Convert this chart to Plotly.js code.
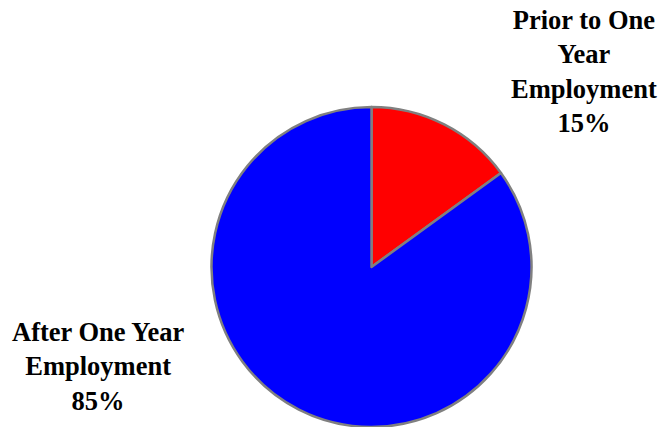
<!DOCTYPE html>
<html><head><meta charset="utf-8">
<script src="https://cdn.plot.ly/plotly-3.0.1.min.js"></script>
<style>html,body{margin:0;padding:0;background:#fff}</style>
</head><body>
<div id="chart" style="width:658px;height:427px"></div>
<script>
const labels = ["Prior to One<br>Year<br>Employment", "After One Year<br>Employment"];
const values = [15, 85];
const colors = ["#FF0000", "#0000FF"];
const labelPos = [[583.5/658, 1 - 72/427], [97.5/658, 1 - 366/427]];

const annotations = labels.map((l, i) => ({
  text: "<b>" + l.split("<br>").join("</b><br><b>") + "</b><br><b>" + values[i] + "%</b>",
  x: labelPos[i][0], y: labelPos[i][1], xref: "paper", yref: "paper",
  xanchor: "center", yanchor: "middle", showarrow: false, align: "center",
  font: {family: "Liberation Serif", size: 26.5, color: "#000", weight: "bold"}
}));

Plotly.newPlot("chart", [{
  type: "pie", labels: labels.map(s => s.replace(/<br>/g, " ")), values: values,
  sort: false, direction: "clockwise", rotation: 0,
  marker: {colors: colors, line: {color: "#808080", width: 2.5}},
  textinfo: "none", hoverinfo: "none",
  domain: {x: [211.5/658, 531.5/658], y: [0, 320/427]}
}], {
  width: 658, height: 427, margin: {l: 0, r: 0, t: 0, b: 0},
  showlegend: false, paper_bgcolor: "#fff", annotations: annotations
}, {staticPlot: true});
</script>
</body></html>
